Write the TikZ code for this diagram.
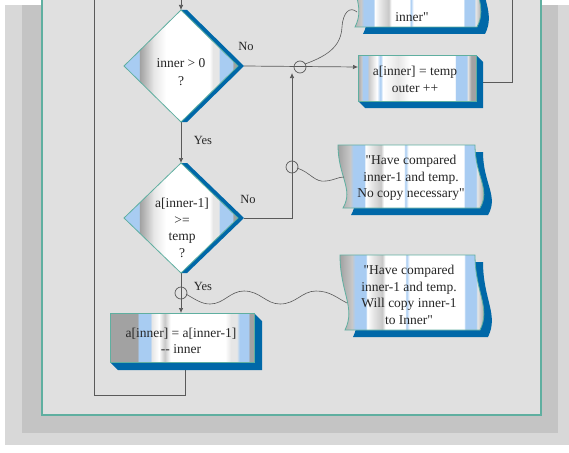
\documentclass[tikz,border=0pt]{standalone}
\usepackage{fontspec}
\newfontfamily\dfont{Liberation Serif}
\usetikzlibrary{arrows.meta}
\definecolor{sblue}{HTML}{0068A8}
\definecolor{lblue}{HTML}{A8CCF2}
\definecolor{sgray}{HTML}{A2A2A2}
\definecolor{mgray}{HTML}{C8C8C8}
\definecolor{vlg}{HTML}{E6E6E6}
\definecolor{tealc}{HTML}{5FAFA0}
\definecolor{panel}{HTML}{E0E0E0}
\definecolor{bandd}{HTML}{C4C4C4}
\definecolor{bandl}{HTML}{D8D8D8}
\definecolor{linec}{HTML}{5A5A5A}
\pgfdeclarehorizontalshading{boxsh}{100bp}{color(0bp)=(sgray); color(25bp)=(sgray); color(26.5bp)=(mgray); color(27bp)=(lblue); color(29bp)=(lblue); color(29.5bp)=(mgray); color(33bp)=(white); color(34.5bp)=(lblue); color(35.5bp)=(white); color(42bp)=(vlg); color(47bp)=(white); color(66bp)=(white); color(66.5bp)=(lblue); color(71bp)=(lblue); color(71.5bp)=(vlg); color(73bp)=(sgray); color(75bp)=(sgray); color(100bp)=(sgray)}
\pgfdeclarehorizontalshading{boxthreesh}{100bp}{color(0bp)=(sgray); color(25bp)=(sgray); color(34.5bp)=(sgray); color(35bp)=(lblue); color(39bp)=(lblue); color(39.5bp)=(vlg); color(42bp)=(white); color(44bp)=(mgray); color(46bp)=(white); color(65bp)=(white); color(67bp)=(vlg); color(69bp)=(vlg); color(70bp)=(lblue); color(73bp)=(lblue); color(73.5bp)=(sgray); color(75bp)=(sgray); color(100bp)=(sgray)}
\pgfdeclarehorizontalshading{docsh}{100bp}{color(0bp)=(sgray); color(25bp)=(sgray); color(29bp)=(mgray); color(30bp)=(lblue); color(33.5bp)=(lblue); color(34bp)=(white); color(36bp)=(vlg); color(39bp)=(mgray); color(40bp)=(white); color(46.5bp)=(white); color(47bp)=(lblue); color(48bp)=(white); color(66bp)=(white); color(66.5bp)=(lblue); color(70bp)=(lblue); color(70.5bp)=(vlg); color(73bp)=(sgray); color(75bp)=(sgray); color(100bp)=(sgray)}
\pgfdeclarehorizontalshading{diash}{100bp}{color(0bp)=(lblue); color(25bp)=(lblue); color(31.5bp)=(lblue); color(32bp)=(sgray); color(35.5bp)=(mgray); color(38bp)=(vlg); color(43.5bp)=(white); color(62.5bp)=(white); color(64bp)=(vlg); color(66.5bp)=(vlg); color(67bp)=(lblue); color(72.5bp)=(lblue); color(73bp)=(sgray); color(75bp)=(sgray); color(100bp)=(sgray)}
\newcommand{\mkbox}[6]{% x0 y0 x1 y1 depth shading
  \fill[sblue] (#3,#2) -- (#3+#5,#2+#5) -- (#3+#5,#4+#5) -- (#1+#5,#4+#5) -- (#1,#4) -- (#3,#4) -- cycle;
  \shadedraw[shading=#6, draw=tealc, line width=0.8pt] (#1,#2) rectangle (#3,#4);}
\newcommand{\docpath}[4]{(#1,#2) -- (#3,#2) .. controls (#3,#2+0.5*#4-0.5*#2) and (#3+16,#2+0.7*#4-0.7*#2) .. (#3+5,#4) -- (#1+5,#4) .. controls (#1+16,#2+0.7*#4-0.7*#2) and (#1,#2+0.5*#4-0.5*#2) .. (#1,#2) -- cycle}
\newcommand{\mkdoc}[4]{%
  \fill[sblue, shift={(8,7)}] \docpath{#1}{#2}{#3}{#4};
  \shadedraw[shading=docsh, draw=tealc, line width=0.8pt] \docpath{#1}{#2}{#3}{#4};}
\newcommand{\mkdia}[4]{% cx cy hw hh
  \fill[sblue] (#1,#2-#4) -- (#1+6,#2-#4) -- (#1+#3+6,#2) -- (#1+6,#2+#4) -- (#1,#2+#4) -- cycle;
  \shadedraw[shading=diash, draw=tealc, line width=0.8pt] (#1,#2-#4) -- (#1+#3,#2) -- (#1,#2+#4) -- (#1-#3,#2) -- cycle;}
\tikzset{
  txt/.style={align=center, inner sep=0pt, text=black!85, font=\dfont\fontsize{13.5}{16.7}\selectfont},
  lbl/.style={inner sep=0pt, text=black!85, font=\dfont\fontsize{12.5}{14}\selectfont},
  conn/.style={draw=linec, line width=0.7pt},
  arr/.style={conn, -{Latex[length=5pt,width=4.5pt]}},
  wave/.style={draw=linec, line width=0.6pt},
  anchorc/.style={draw=linec, line width=0.7pt}
}
\begin{document}
\begin{tikzpicture}[x=1pt,y=-1pt]
\useasboundingbox (0,0) rectangle (569,452);
\clip (0,0) rectangle (569,452);
% background
\fill[white] (0,0) rectangle (569,452);
\fill[bandl] (5,5) rectangle (569,445);
\fill[bandd] (22,5) rectangle (558,433);
\filldraw[fill=panel, draw=tealc, line width=1.8pt] (42,-10) rectangle (541,415);

% coordinates
\coordinate (in1) at (181,-2);
\coordinate (d1t) at (181,10);
\coordinate (d1r) at (244,66);
\coordinate (d1b) at (181,122);
\coordinate (d2t) at (181,163);
\coordinate (d2r) at (244,218);
\coordinate (d2b) at (181,273);
\coordinate (b2w) at (358,67);
\coordinate (b2e) at (483,82);
\coordinate (b2c) at (512,82);
\coordinate (b2t) at (512,-5);
\coordinate (b3n) at (181,313);
\coordinate (b3s) at (185,370);
\coordinate (lp) at (94,395);
\coordinate (lt) at (94,-5);
\coordinate (j1) at (292,73);
\coordinate (c1) at (300,67);
\coordinate (c2) at (292,167);
\coordinate (c3) at (181,293);
\coordinate (e1) at (357,12);
\coordinate (e2) at (344,177);
\coordinate (e3) at (347,303);

% connectors behind shapes
\draw[conn] (b3s) |- (lp) -- (lt);
\draw[conn] (b2e) -- (b2c) -- (b2t);
\draw[arr] (in1) -- (d1t);
\draw[arr] (d1r) -- (b2w);
\draw[arr] (d2r) -| (j1);
\draw[arr] (d1b) -- (d2t);
\draw[arr] (d2b) -- (b3n);

% shapes
\mkdia{181}{66}{57}{56}
\mkdia{181}{218}{57}{55}
\mkbox{358}{55}{476}{101}{7}{boxsh}
\mkbox{110}{313}{254}{362}{8}{boxthreesh}
\mkdoc{350}{-45}{472}{27}
\mkdoc{338}{145}{475}{208}
\mkdoc{340}{255}{475}{330}

% annotation anchors and wavy lines
\draw[anchorc] (c1) circle (6);
\draw[anchorc] (c2) circle (6);
\draw[anchorc] (c3) circle (6);
\draw[wave] (c1) ++(5,-3) .. controls (330,55) and (341,45) .. (342,27) .. controls (343,12) and (350,6) .. (e1);
\draw[wave] (c2) ++(5,1) .. controls (310,172) and (315,183) .. (326,181) .. controls (335,180) and (338,177) .. (e2);
\draw[wave] (c3) ++(5,1) .. controls (196,300) and (202,304) .. (210,304) .. controls (224,304) and (230,291) .. (244,291) .. controls (260,291) and (266,304) .. (280,304) .. controls (296,304) and (302,291) .. (316,291) .. controls (330,291) and (337,298) .. (e3);

% texts
\node[txt] (t1) at (181,72) {inner > 0\\[2pt]?};
\node[txt] (t2) at (182,228) {a[inner-1]\\>=\\temp\\?};
\node[txt] (t3) at (415,79.5) {a[inner] = temp\\outer ++};
\node[txt] (t4) at (181,341) {a[inner] = a[inner-1]\\-- inner};
\node[txt] (t5) at (412,17) {inner"};
\node[txt] (t6) at (411,178) {"Have compared\\inner-1 and temp.\\No copy necessary"};
\node[txt] (t7) at (409,295) {"Have compared\\inner-1 and temp.\\Will copy inner-1\\to Inner"};
\node[lbl] (n1) at (246,46) {No};
\node[lbl] (y1) at (203,140) {Yes};
\node[lbl] (n2) at (248,199) {No};
\node[lbl] (y2) at (203,286) {Yes};
\end{tikzpicture}
\end{document}
